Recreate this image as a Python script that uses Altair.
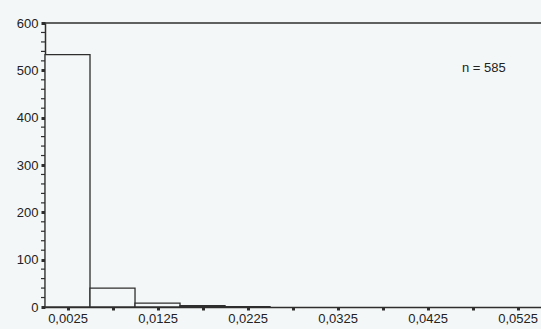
import altair as alt
import pandas as pd

# Histogram bins (lower/upper edges) and their counts
bin_start = [0.000, 0.005, 0.010, 0.015, 0.020]
bin_end = [0.005, 0.010, 0.015, 0.020, 0.025]
counts = [533, 40, 8, 3, 1]

x_ticks = [0.0025 + 0.005 * i for i in range(11)]
y_major = [0, 100, 200, 300, 400, 500, 600]
y_minor = [v for v in range(0, 601, 20) if v % 100 != 0]

INK = "#2e2e2e"
BG = "#f4f7f7"
FONT = "Liberation Sans"

bars = pd.DataFrame({"start": bin_start, "end": bin_end, "count": counts})
minor = pd.DataFrame({"v": y_minor})

xscale = alt.Scale(domain=[0, 0.0551], nice=False, zero=False)
yscale = alt.Scale(domain=[0, 600], nice=False)

label_expr = (
    "(round(datum.value*10000) - 25) % 100 == 0 ? "
    "replace(format(datum.value, '.4f'), '.', ',') : ''"
)

hist = alt.Chart(bars).mark_bar(
    fill=BG, stroke=INK, strokeWidth=1.3
).encode(
    x=alt.X("start:Q", scale=xscale,
            axis=alt.Axis(values=x_ticks, labelExpr=label_expr, title=None,
                          grid=False, domainColor=INK, domainWidth=1.5,
                          tickColor=INK, tickSize=3, tickWidth=3,
                          labelColor="#222", labelFont=FONT, labelFontSize=13,
                          labelPadding=2, labelFlush=False, labelOverlap=False)),
    x2="end:Q",
    y=alt.Y("count:Q", scale=yscale,
            axis=alt.Axis(values=y_major, title=None, grid=False,
                          domainColor=INK, domainWidth=1.5,
                          tickColor=INK, tickSize=4, tickWidth=3,
                          labelColor="#222", labelFont=FONT, labelFontSize=13,
                          labelPadding=3)),
    y2=alt.datum(0),
)

# minor ticks on the count axis, every 20
minor_ticks = alt.Chart(minor).mark_rule(color=INK, strokeWidth=1.2).encode(
    y=alt.Y("v:Q", scale=yscale),
    x=alt.value(-4),
    x2=alt.value(0),
)

# top frame line at 600
top_line = alt.Chart(pd.DataFrame({"v": [600]})).mark_rule(
    color=INK, strokeWidth=1.5
).encode(
    y=alt.Y("v:Q", scale=yscale),
    x=alt.value(0),
    x2=alt.value(496),
)

n_label = alt.Chart(pd.DataFrame({"t": ["n = 585"]})).mark_text(
    font=FONT, fontSize=13, color="#222", align="left", baseline="middle"
).encode(
    text="t:N",
    x=alt.value(417),
    y=alt.value(45),
)

chart = alt.layer(hist, minor_ticks, top_line, n_label).properties(
    width=496,
    height=284,
    background=BG,
    padding={"left": 45, "top": 23, "right": 0, "bottom": 22},
    autosize=alt.AutoSizeParams(type="none"),
).configure_view(stroke=None)

chart.save("out.html", embed_options={"renderer": "svg", "actions": False})
